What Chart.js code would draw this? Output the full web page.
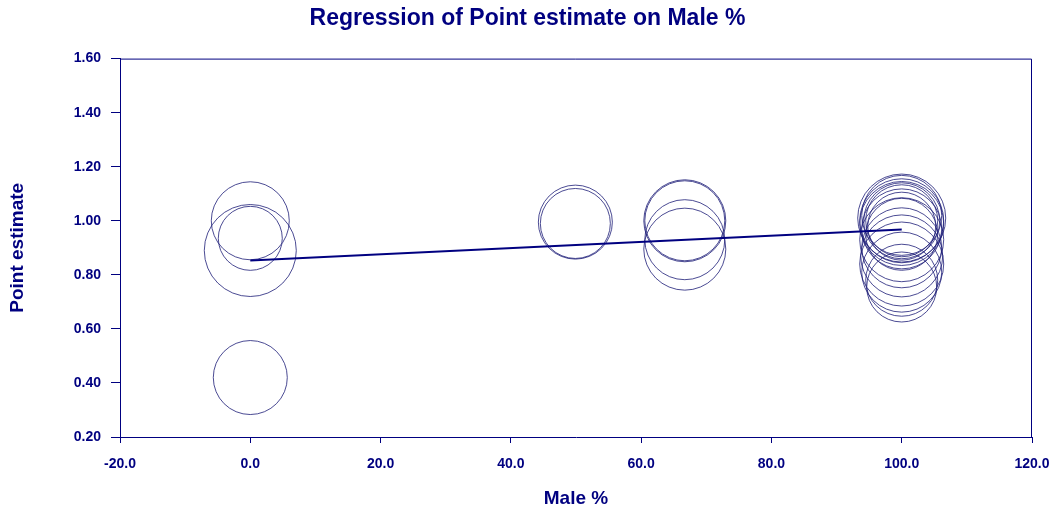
<!DOCTYPE html>
<html>
<head>
    <title>Regression of Point estimate on Male %</title>
    <script src="https://cdn.jsdelivr.net/npm/chart.js@4.4.0/dist/chart.umd.min.js"></script>
    <style>
        body { margin: 0; background: #fff; }
        #wrap { width: 1055px; height: 514px; }
    </style>
</head>
<body>
    <div id="wrap"><canvas id="chart" width="1055" height="514"></canvas></div>
    <script>
        const NAVY = '#000080';

        // study points: Male % (x), point estimate (y), bubble size (weight)
        const malePct = [
            0, 0, 0, 0,
            49.9, 49.9,
            66.7, 66.7, 66.7, 66.7,
            100, 100, 100, 100, 100, 100, 100, 100,
            100, 100, 100, 100, 100, 100, 100, 100
        ];
        const pointEst = [
            1.00, 0.935, 0.89, 0.42,
            0.995, 0.99,
            1.00, 1.00, 0.93, 0.895,
            1.02, 1.01, 1.00, 1.00, 1.00, 0.99, 0.98, 0.97,
            0.95, 0.93, 0.90, 0.87, 0.84, 0.81, 0.78, 0.755
        ];
        const weight = [
            39, 32, 46, 37,
            37, 35,
            41, 40, 40, 41,
            40, 44, 42, 38, 36, 42, 34, 40,
            36, 42, 40, 41, 42, 40, 36, 35
        ];

        // fitted regression line
        const fitX = [0, 100];
        const fitY = [0.853, 0.968];

        const xTickValues = [-20, 0, 20, 40, 60, 80, 100, 120];
        const xTickLabels = ['-20.0', '0.0', '20.0', '40.0', '60.0', '80.0', '100.0', '120.0'];
        const yTickValues = [0.2, 0.4, 0.6, 0.8, 1.0, 1.2, 1.4, 1.6];
        const yTickLabels = ['0.20', '0.40', '0.60', '0.80', '1.00', '1.20', '1.40', '1.60'];

        const bubbles = malePct.map((x, i) => ({ x: x, y: pointEst[i], r: weight[i] }));
        const fitLine = fitX.map((x, i) => ({ x: x, y: fitY[i] }));

        // top and right edges of the plot frame
        const frame = {
            id: 'frame',
            beforeDatasetsDraw(chart) {
                const { ctx, chartArea: a } = chart;
                ctx.save();
                ctx.strokeStyle = NAVY;
                ctx.lineWidth = 1;
                ctx.beginPath();
                ctx.moveTo(a.left, a.top + 0.5);
                ctx.lineTo(a.right - 0.5, a.top + 0.5);
                ctx.lineTo(a.right - 0.5, a.bottom);
                ctx.stroke();
                ctx.restore();
            }
        };

        const tickFont = { family: 'Liberation Sans, Arial, sans-serif', size: 14, weight: 'bold' };
        const titleFont = { family: 'Liberation Sans, Arial, sans-serif', size: 19, weight: 'bold' };

        new Chart(document.getElementById('chart'), {
            type: 'bubble',
            data: {
                datasets: [{
                    type: 'line',
                    data: fitLine,
                    borderColor: NAVY,
                    borderWidth: 2,
                    pointRadius: 0,
                    fill: false,
                    order: 0
                }, {
                    data: bubbles,
                    backgroundColor: 'rgba(0,0,0,0)',
                    borderColor: 'rgba(30,30,120,0.8)',
                    borderWidth: 1,
                    hoverRadius: 0,
                    order: 1
                }]
            },
            options: {
                responsive: false,
                animation: false,
                layout: { padding: 0, autoPadding: false },
                plugins: {
                    legend: { display: false },
                    tooltip: { enabled: false },
                    title: {
                        display: true,
                        text: 'Regression of Point estimate on Male %',
                        color: NAVY,
                        font: { family: 'Liberation Sans, Arial, sans-serif', size: 23, weight: 'bold' },
                        padding: { top: 5, bottom: 26 }
                    }
                },
                scales: {
                    x: {
                        type: 'linear',
                        min: -20,
                        max: 120,
                        afterBuildTicks: s => { s.ticks = xTickValues.map(v => ({ value: v })); },
                        afterFit: s => {
                            s.height = 77;
                            s.paddingLeft = 0;
                            s.paddingRight = 23;
                        },
                        ticks: {
                            color: NAVY,
                            font: tickFont,
                            padding: 13,
                            maxRotation: 0,
                            callback: (v, i) => xTickLabels[i]
                        },
                        grid: { drawOnChartArea: false, tickLength: 6, color: NAVY },
                        border: { display: true, color: NAVY, width: 1 },
                        title: {
                            display: true,
                            text: 'Male %',
                            color: NAVY,
                            font: titleFont,
                            padding: { top: 0, bottom: 4 }
                        }
                    },
                    y: {
                        type: 'linear',
                        min: 0.2,
                        max: 1.6,
                        afterBuildTicks: s => { s.ticks = yTickValues.map(v => ({ value: v })); },
                        afterFit: s => {
                            s.width = 120;
                            s.paddingTop = 0;
                            s.paddingBottom = 0;
                        },
                        ticks: {
                            color: NAVY,
                            font: tickFont,
                            padding: 10,
                            callback: (v, i) => yTickLabels[i]
                        },
                        grid: { drawOnChartArea: false, tickLength: 9, color: NAVY },
                        border: { display: true, color: NAVY, width: 1 },
                        title: {
                            display: true,
                            text: 'Point estimate',
                            color: NAVY,
                            font: titleFont,
                            padding: { top: 6, bottom: 0 }
                        }
                    }
                }
            },
            plugins: [frame]
        });
    </script>
</body>
</html>
